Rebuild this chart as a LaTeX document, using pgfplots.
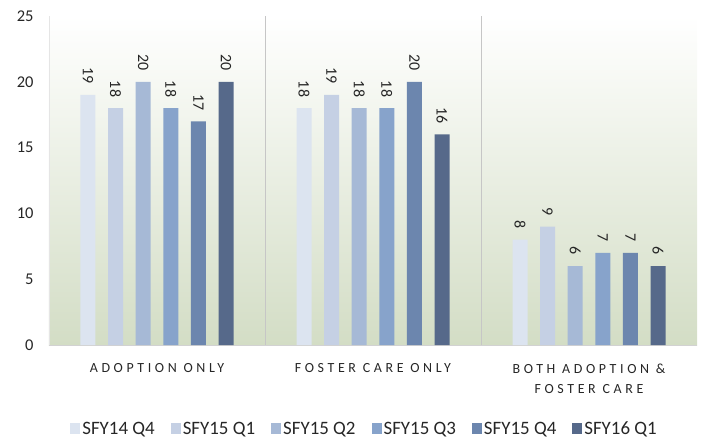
\documentclass[border=0pt]{standalone}
\usepackage{pgfplots}
\pgfplotsset{compat=1.18}
\usepackage{fontspec}
\setmainfont{Carlito}
\newfontfamily\capsfont[LetterSpace=26]{Carlito}

\definecolor{qa}{RGB}{220,228,240}
\definecolor{qb}{RGB}{197,208,228}
\definecolor{qc}{RGB}{166,185,214}
\definecolor{qd}{RGB}{135,163,203}
\definecolor{qe}{RGB}{108,134,174}
\definecolor{qf}{RGB}{86,105,138}
\definecolor{bggreen}{RGB}{211,221,197}

\begin{document}
\begin{tikzpicture}
\begin{axis}[
    scale only axis,
    width=648bp, height=329bp,
    xmin=-0.5, xmax=2.5,
    ymin=0, ymax=25,
    ytick={0,5,...,25},
    ybar=12.6bp, bar width=15bp,
    xtick={0,1,2},
    xticklabels={ADOPTION ONLY, FOSTER CARE ONLY, {BOTH ADOPTION \&\\FOSTER CARE}},
    xticklabel style={align=center, font=\capsfont\fontsize{14}{21}\selectfont,
        text=black!85, yshift=-15bp},
    yticklabel style={font=\fontsize{16.5}{18}\selectfont, xshift=-12bp, text=black!85},
    /pgf/number format/assume math mode=true,
    minor xtick={0.5,1.5},
    xminorgrids,
    minor grid style={gray!45, line width=0.6bp},
    major tick length=0pt, minor tick length=0pt,
    axis lines*=left,
    x axis line style={gray!35},
    y axis line style={gray!20},
    axis background/.style={shade, top color=white, bottom color=bggreen},
    nodes near coords,
    nodes near coords style={rotate=-90, anchor=east, inner sep=0pt, outer sep=0pt,
        xshift=-11bp,
        font=\fontsize{16}{18}\selectfont, text=black!85},
    every axis plot/.append style={draw=none},
    legend style={at={(0.487,-0.255)}, anchor=center, legend columns=-1,
        draw=none, fill=none, font=\fontsize{19}{20}\selectfont, text=black!85,
        /tikz/every even column/.append style={column sep=14bp},
        /tikz/every odd column/.append style={column sep=0bp}},
    legend image code/.code={\fill[#1] (0bp,-5.5bp) rectangle (10bp,5.5bp);},
]
\addplot[fill=qa] coordinates {(0,19) (1,18) (2,8)};
\addplot[fill=qb] coordinates {(0,18) (1,19) (2,9)};
\addplot[fill=qc] coordinates {(0,20) (1,18) (2,6)};
\addplot[fill=qd] coordinates {(0,18) (1,18) (2,7)};
\addplot[fill=qe] coordinates {(0,17) (1,20) (2,7)};
\addplot[fill=qf] coordinates {(0,20) (1,16) (2,6)};
\legend{SFY14 Q4, SFY15 Q1, SFY15 Q2, SFY15 Q3, SFY15 Q4, SFY16 Q1}
\end{axis}
\pgfresetboundingbox
\path ([shift={(-49bp,-96bp)}]current axis.south west) rectangle ([shift={(5bp,16bp)}]current axis.north east);
\end{tikzpicture}
\end{document}
